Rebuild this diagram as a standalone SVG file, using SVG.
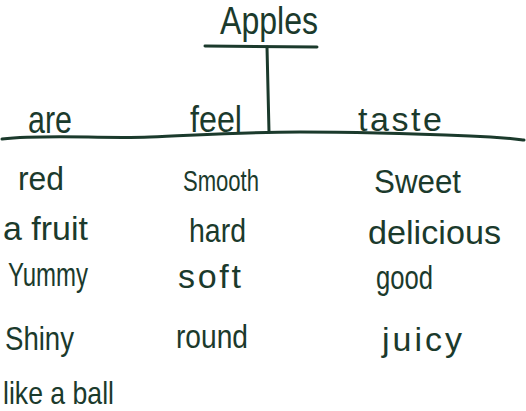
<svg xmlns="http://www.w3.org/2000/svg" width="526" height="411" viewBox="0 0 526 411">
<style>
.t{font-family:"Liberation Sans","Arial",sans-serif;fill:#1b3a2c;font-size:34px}
.h{font-size:38px}
.ln{stroke:#1b3a2c;stroke-width:3;fill:none;stroke-linecap:round}
</style>
<rect width="526" height="411" fill="#ffffff"/>
<g id="connectors">
<path class="ln" d="M205,46 L317,47"/>
<path class="ln" d="M267,47 L269,132"/>
<path class="ln" d="M2,139 C50,134 100,139 150,137 C200,135 240,132 300,132 C360,132 420,134 470,136 C500,137 515,139 524,140"/>
</g>
<g id="title"><text class="t h" x="220" y="34" textLength="98" lengthAdjust="spacingAndGlyphs">Apples</text></g>
<g id="col-are">
<text class="t" x="28" y="133" textLength="44" lengthAdjust="spacingAndGlyphs" style="font-size:38px">are</text>
<text class="t" x="18" y="190" textLength="46" lengthAdjust="spacingAndGlyphs">red</text>
<text class="t" x="3" y="240" textLength="85" lengthAdjust="spacingAndGlyphs">a fruit</text>
<text class="t" x="8" y="286" textLength="80" lengthAdjust="spacingAndGlyphs">Yummy</text>
<text class="t" x="5" y="350" textLength="69" lengthAdjust="spacingAndGlyphs">Shiny</text>
<text class="t" x="3" y="404" textLength="111" lengthAdjust="spacingAndGlyphs" style="font-size:32px">like a ball</text>
</g>
<g id="col-feel">
<text class="t" x="190" y="132" textLength="52" lengthAdjust="spacingAndGlyphs" style="font-size:36px">feel</text>
<text class="t" x="183" y="191" textLength="76" lengthAdjust="spacingAndGlyphs" style="font-size:30px">Smooth</text>
<text class="t" x="189" y="242" textLength="57" lengthAdjust="spacingAndGlyphs">hard</text>
<text class="t" x="178" y="288" textLength="63" lengthAdjust="spacing">soft</text>
<text class="t" x="176" y="348" textLength="72" lengthAdjust="spacingAndGlyphs">round</text>
</g>
<g id="col-taste">
<text class="t" x="358" y="131" textLength="84" lengthAdjust="spacing">taste</text>
<text class="t" x="374" y="193" textLength="87" lengthAdjust="spacingAndGlyphs">Sweet</text>
<text class="t" x="368" y="244" textLength="133" lengthAdjust="spacingAndGlyphs">delicious</text>
<text class="t" x="376" y="289" textLength="57" lengthAdjust="spacingAndGlyphs">good</text>
<text class="t" x="382" y="351" textLength="80" lengthAdjust="spacing">juicy</text>
</g>
</svg>
